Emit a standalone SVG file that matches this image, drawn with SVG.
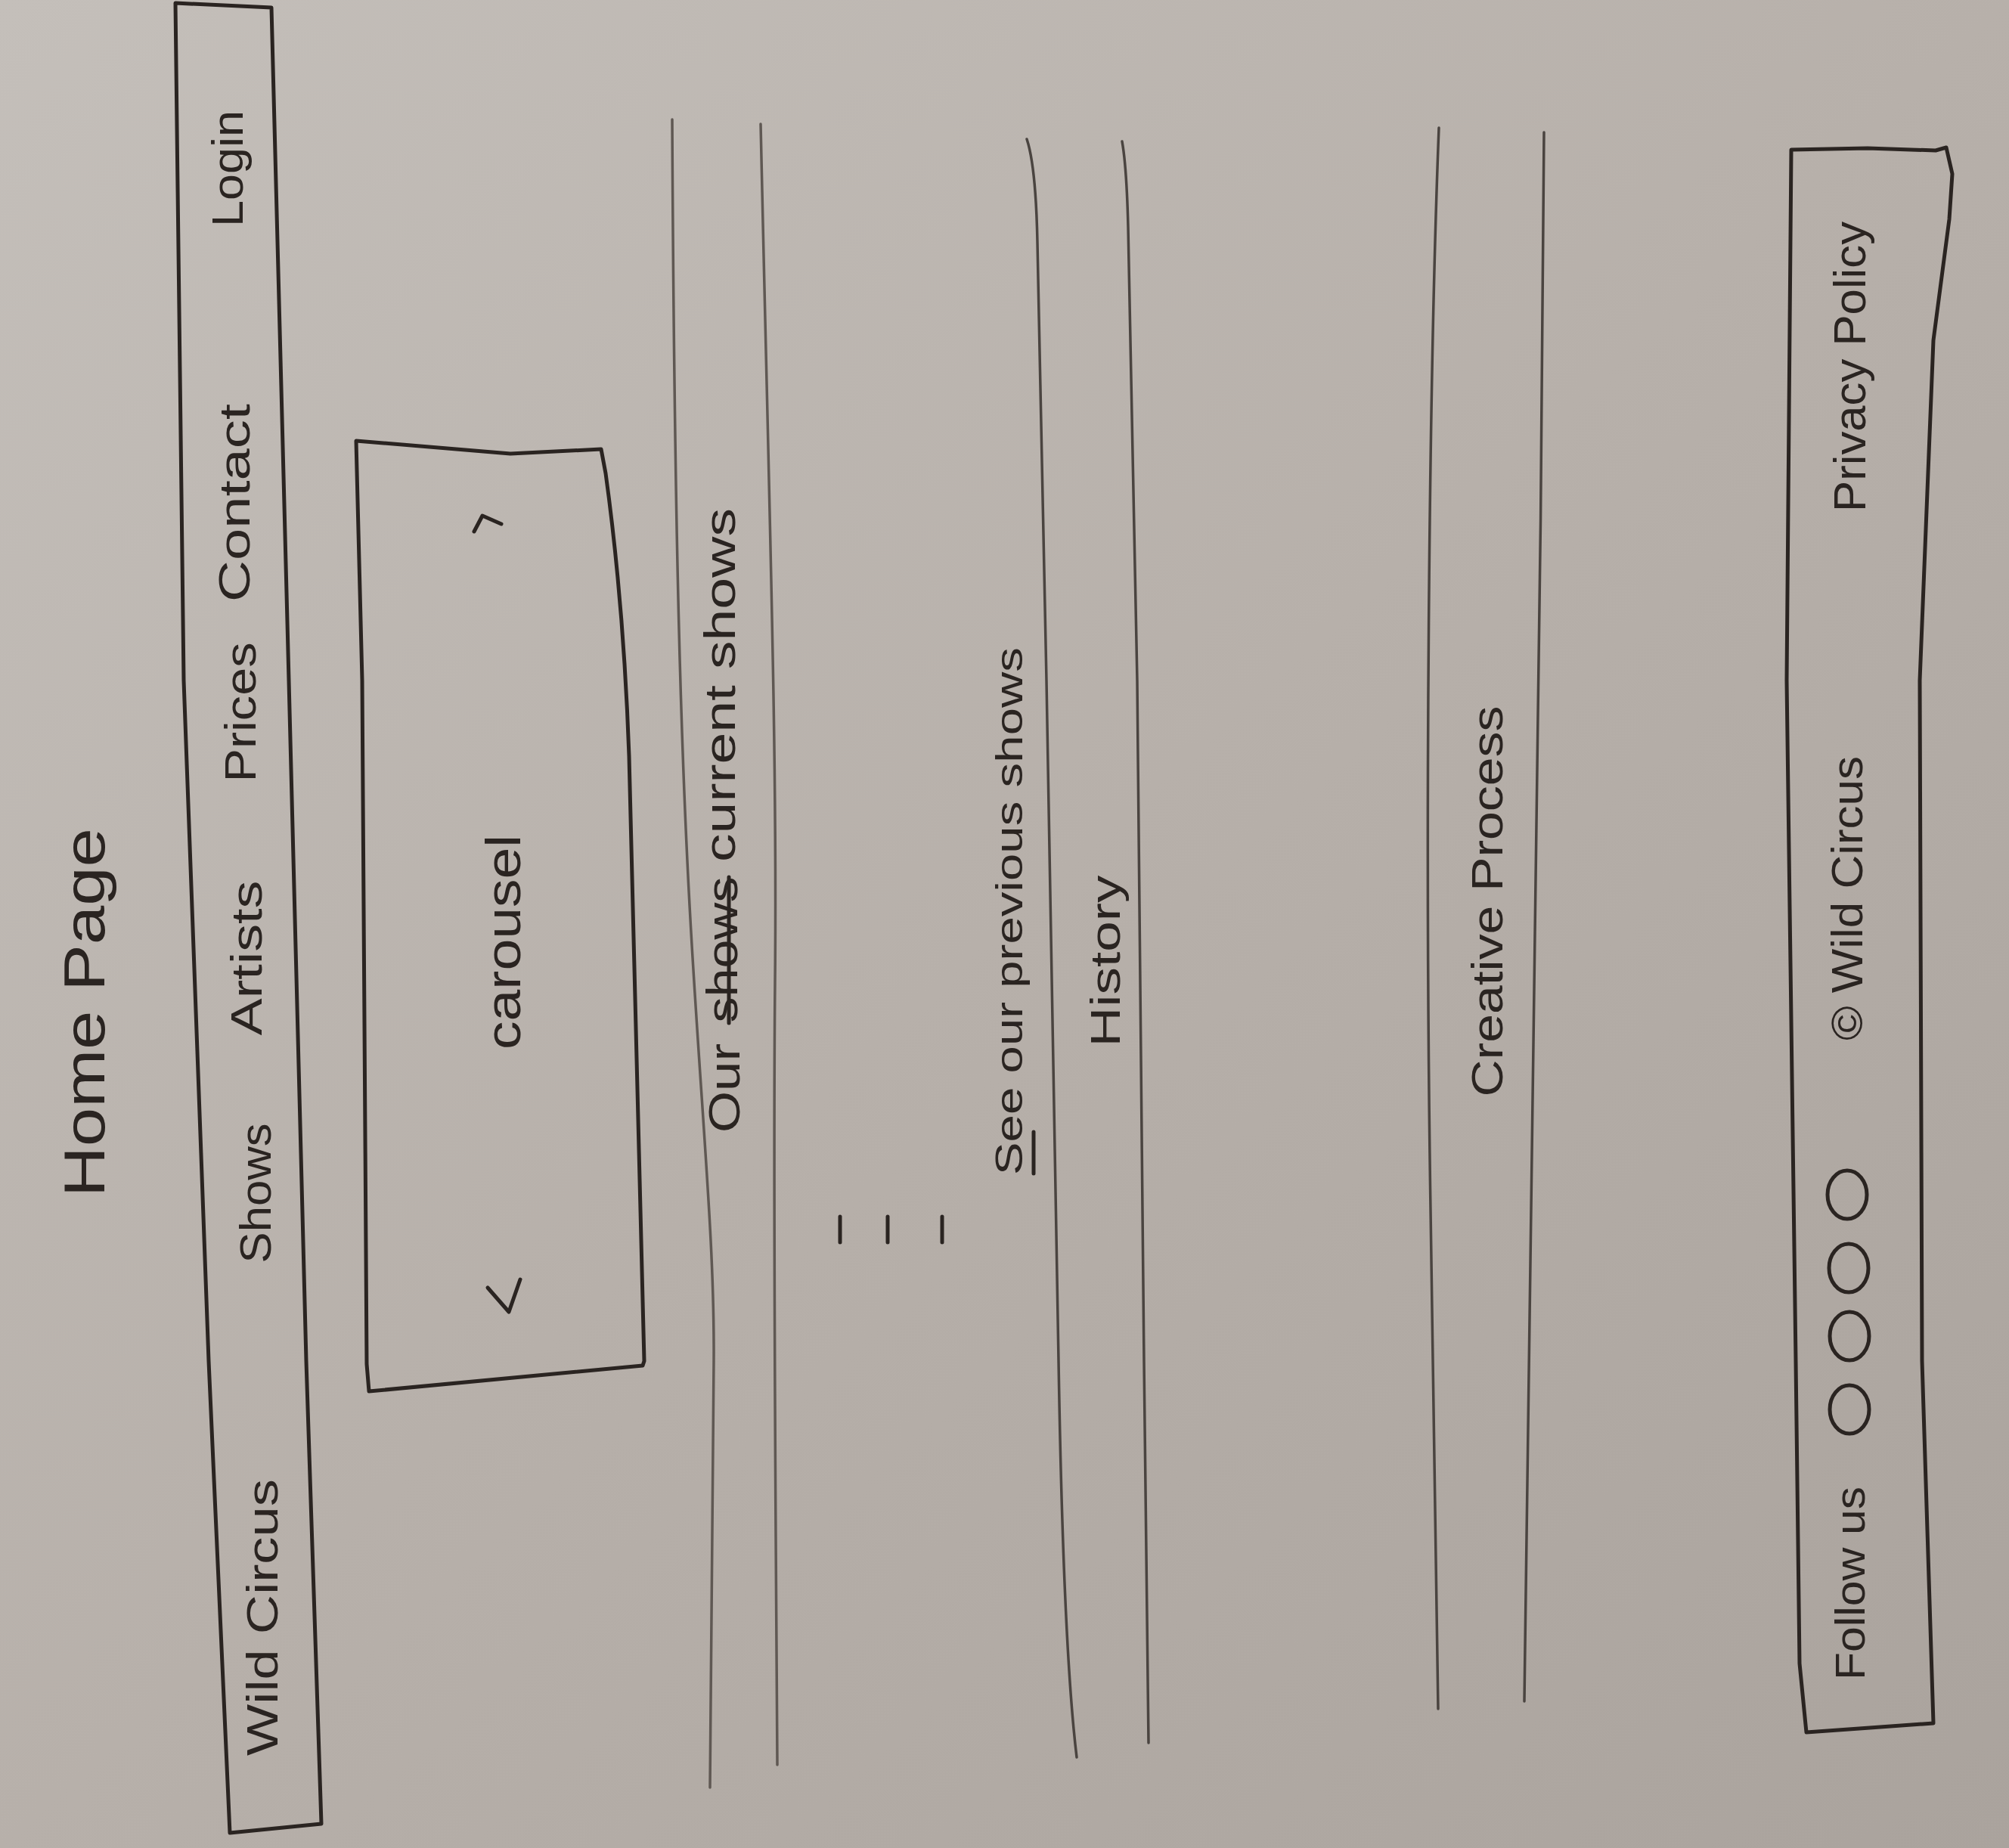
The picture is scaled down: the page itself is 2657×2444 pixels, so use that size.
<svg xmlns="http://www.w3.org/2000/svg" width="2657" height="2444" viewBox="0 0 2657 2444">
<defs>
<linearGradient id="paper" x1="0" y1="0" x2="1" y2="1">
<stop offset="0" stop-color="#c4bfba"/>
<stop offset="0.5" stop-color="#b7b0aa"/>
<stop offset="1" stop-color="#aaa39d"/>
</linearGradient>
<style>
.ink{fill:none;stroke:#2a2421;stroke-width:5;stroke-linejoin:round;stroke-linecap:round}
.pencil{fill:none;stroke:#5f5853;stroke-width:3.5;stroke-linecap:round;stroke-linejoin:round}
.pencil2{fill:none;stroke:#4a4440;stroke-width:3.5;stroke-linecap:round;stroke-linejoin:round}
.t{font-family:"Liberation Sans","DejaVu Sans",sans-serif;fill:#2a2421;text-anchor:middle}
</style>
</defs>
<rect x="0" y="0" width="2657" height="2444" fill="url(#paper)"/>

<g id="title">
<text class="t" font-size="76" transform="translate(138,1339) rotate(-90)" textLength="488" lengthAdjust="spacingAndGlyphs">Home Page</text>
</g>

<g id="navbar">
<path class="ink" d="M232,4 L359,10 L382,900 L405,1800 L425,2412 L304,2424 L276,1800 L243,900 Z"/>
<text class="t" font-size="58" transform="translate(321,223) rotate(-90)" textLength="154" lengthAdjust="spacingAndGlyphs">Login</text>
<text class="t" font-size="58" transform="translate(330,665) rotate(-90)" textLength="262" lengthAdjust="spacingAndGlyphs">Contact</text>
<text class="t" font-size="58" transform="translate(338,942) rotate(-90)" textLength="185" lengthAdjust="spacingAndGlyphs">Prices</text>
<text class="t" font-size="58" transform="translate(346,1267) rotate(-90)" textLength="205" lengthAdjust="spacingAndGlyphs">Artists</text>
<text class="t" font-size="58" transform="translate(358,1578) rotate(-90)" textLength="185" lengthAdjust="spacingAndGlyphs">Shows</text>
<text class="t" font-size="58" transform="translate(367,2139) rotate(-90)" textLength="366" lengthAdjust="spacingAndGlyphs">Wild Circus</text>
</g>

<g id="carousel">
<path class="ink" d="M471,583 L675,600 L795,594 L801,626 Q825,800 832,1000 L852,1800 L850,1806 L488,1840 L485,1804 L479,900 Z"/>
<path class="ink" d="M627,703 L638,682 L663,693"/>
<path class="ink" d="M645,1703 L673,1735 L688,1692"/>
<text class="t" font-size="64" transform="translate(688,1246) rotate(-90)" textLength="284" lengthAdjust="spacingAndGlyphs">carousel</text>
</g>

<g id="connectors">
<path class="pencil" d="M889,158 C892,700 900,1000 915,1250 C930,1500 945,1650 944,1800 L939,2364"/>
<path class="pencil" d="M1006,164 C1018,700 1028,1000 1025,1300 C1022,1600 1026,2000 1028,2334"/>
<path class="pencil2" d="M1358,184 Q1370,220 1372,320 L1384,900 L1400,1800 C1405,2100 1415,2250 1424,2324"/>
<path class="pencil2" d="M1484,187 Q1490,220 1492,300 L1504,900 L1513,1800 L1519,2305"/>
<path class="pencil2" d="M1903,169 C1890,500 1884,1100 1892,1600 L1902,2260"/>
<path class="pencil2" d="M2042,175 C2038,900 2022,1700 2016,2250"/>
</g>

<g id="current-shows">
<text class="t" font-size="58" transform="translate(978,1439) rotate(-90)" textLength="118" lengthAdjust="spacingAndGlyphs">Our</text>
<text class="t" font-size="58" transform="translate(975,1256) rotate(-90)" textLength="193" lengthAdjust="spacingAndGlyphs">shows</text>
<line class="ink" x1="964" y1="1160" x2="964" y2="1353" stroke-width="7"/>
<text class="t" font-size="58" transform="translate(972,906) rotate(-90)" textLength="468" lengthAdjust="spacingAndGlyphs">current shows</text>
</g>

<g id="ellipsis">
<line class="ink" x1="1111" y1="1609" x2="1111" y2="1643" stroke-width="4"/>
<line class="ink" x1="1174" y1="1609" x2="1174" y2="1643" stroke-width="4"/>
<line class="ink" x1="1246" y1="1609" x2="1246" y2="1643" stroke-width="4"/>
</g>

<g id="previous-shows">
<text class="t" font-size="50" transform="translate(1352,1205) rotate(-90)" textLength="698" lengthAdjust="spacingAndGlyphs">See our previous shows</text>
<line class="ink" x1="1367" y1="1497" x2="1367" y2="1552" stroke-width="4"/>
</g>

<g id="history">
<text class="t" font-size="56" transform="translate(1481,1271) rotate(-90)" textLength="227" lengthAdjust="spacingAndGlyphs">History</text>
</g>

<g id="creative-process">
<text class="t" font-size="58" transform="translate(1987,1192) rotate(-90)" textLength="517" lengthAdjust="spacingAndGlyphs">Creative Process</text>
</g>

<g id="footer">
<path class="ink" d="M2369,198 L2470,196 L2560,199 L2574,195 L2582,230 L2578,290 L2557,450 L2539,900 L2542,1800 L2557,2279 L2389,2291 L2380,2200 L2375,1800 L2363,900 Z"/>
<text class="t" font-size="60" transform="translate(2467,485) rotate(-90)" textLength="384" lengthAdjust="spacingAndGlyphs">Privacy Policy</text>
<text class="t" font-size="58" transform="translate(2463,1188) rotate(-90)" textLength="376" lengthAdjust="spacingAndGlyphs">© Wild Circus</text>
<ellipse class="ink" cx="2443" cy="1580" rx="26" ry="32" stroke-width="4"/>
<ellipse class="ink" cx="2445" cy="1677" rx="26" ry="32" stroke-width="4"/>
<ellipse class="ink" cx="2446" cy="1767" rx="26" ry="32" stroke-width="4"/>
<ellipse class="ink" cx="2446" cy="1864" rx="26" ry="32" stroke-width="4"/>
<text class="t" font-size="56" transform="translate(2466,2094) rotate(-90)" textLength="256" lengthAdjust="spacingAndGlyphs">Follow us</text>
</g>
</svg>
